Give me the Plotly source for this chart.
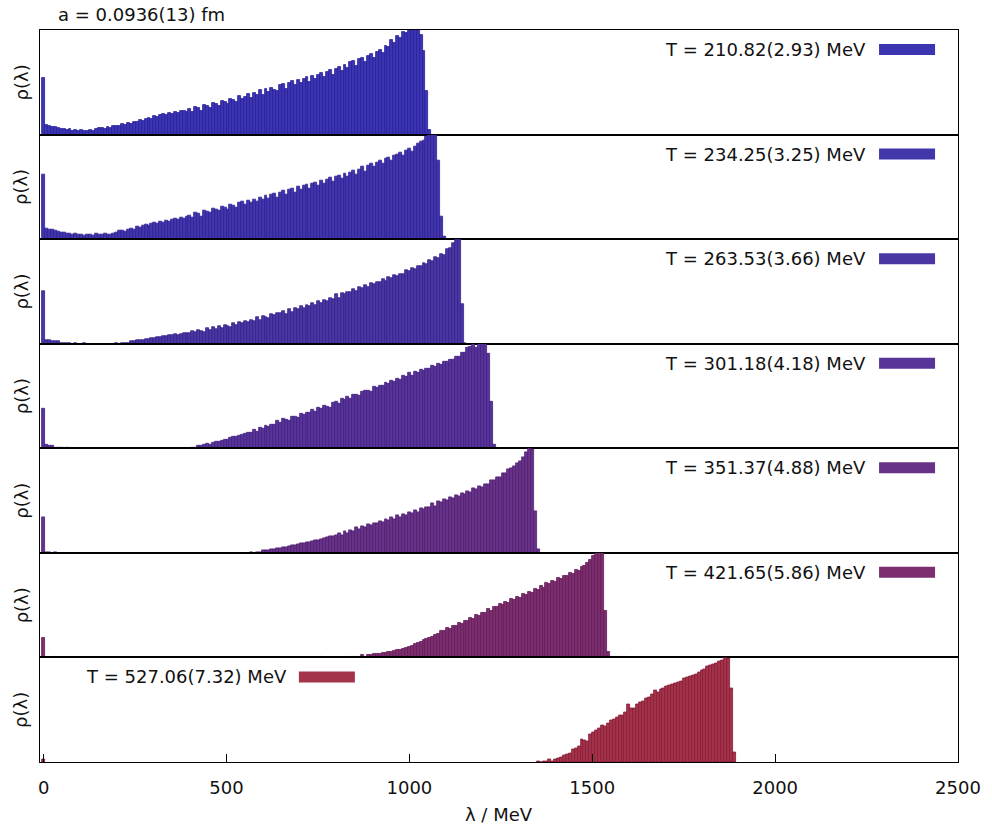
import plotly.graph_objects as go
from plotly.subplots import make_subplots

# Eigenvalue densities rho(lambda), one panel per temperature.
# Heights are in arbitrary units (panel full scale = 100).
BIN = 8.0  # histogram bin width, MeV

temp_labels = [
    "T = 210.82(2.93) MeV",
    "T = 234.25(3.25) MeV",
    "T = 263.53(3.66) MeV",
    "T = 301.18(4.18) MeV",
    "T = 351.37(4.88) MeV",
    "T = 421.65(5.86) MeV",
    "T = 527.06(7.32) MeV",
]

fill_colors = ["#3b35b2", "#4236ab", "#4b36a2", "#573497", "#673388", "#7c2e6e", "#a3334b"]
edge_colors = ["#2a1f9c", "#2f2096", "#37218d", "#421f82", "#511e73", "#641a58", "#881a36"]

# centre of the first bin of each bulk list (MeV)
bulk_start = [0, 0, 0, 400, 560, 760, 1352]

# bins next to lambda = 0 (centres 0, 8, 16, ...) for the hotter ensembles
near0_4 = [38, 3, 2, 2, 1, 1, 1, 0, 1]
near0_5 = [34, 1, 1, 0, 1]
near0_6 = [19, 0, 0, 0, 1]
near0_7 = [2]

rho_1 = [
    54, 9, 8, 7, 7, 6, 5, 5, 4, 5,
    3, 4, 3, 4, 3, 3, 4, 3, 5, 6,
    6, 5, 7, 6, 8, 8, 8, 10, 9, 11,
    10, 12, 12, 14, 13, 15, 16, 15, 18, 17,
    19, 20, 19, 21, 20, 22, 21, 23, 23, 22,
    24, 22, 26, 25, 23, 28, 27, 25, 30, 29,
    27, 32, 31, 29, 34, 33, 31, 37, 34, 36,
    39, 35, 40, 38, 43, 38, 44, 41, 45, 43,
    42, 47, 48, 44, 49, 51, 47, 52, 49, 53,
    55, 50, 56, 53, 57, 59, 55, 60, 62, 57,
    63, 65, 61, 67, 64, 69, 70, 66, 72, 73,
    69, 75, 77, 73, 79, 81, 78, 85, 84, 90,
    88, 94, 92, 98, 97, 103, 101, 105, 102, 95,
    80, 42, 4,
]

rho_2 = [
    62, 10, 9, 9, 8, 7, 6, 6, 5, 5,
    4, 5, 4, 4, 3, 4, 4, 3, 5, 4,
    4, 5, 4, 4, 5, 6, 8, 8, 7, 9,
    10, 9, 12, 11, 13, 14, 13, 15, 16, 15,
    17, 16, 18, 17, 19, 20, 19, 21, 20, 22,
    23, 21, 25, 24, 22, 27, 26, 25, 29, 28,
    27, 31, 30, 28, 33, 32, 30, 35, 36, 33,
    37, 35, 38, 36, 40, 38, 42, 39, 43, 44,
    40, 45, 46, 43, 47, 48, 45, 50, 47, 51,
    52, 48, 53, 54, 51, 56, 53, 57, 59, 55,
    60, 61, 58, 63, 60, 64, 66, 62, 67, 69,
    65, 70, 72, 69, 73, 75, 72, 77, 78, 75,
    80, 81, 83, 80, 85, 87, 84, 89, 91, 93,
    94, 98, 101, 103, 104, 75, 22, 2,
]

rho_3 = [
    50, 3, 3, 2, 2, 2, 1, 1, 1, 1,
    0, 1, 0, 0, 1, 0, 0, 0, 0, 0,
    0, 0, 0, 0, 0, 1, 0, 1, 1, 1,
    2, 2, 3, 3, 3, 4, 4, 5, 5, 6,
    6, 7, 7, 8, 8, 9, 8, 9, 10, 10,
    10, 12, 11, 13, 12, 11, 15, 13, 16, 14,
    17, 15, 18, 17, 16, 20, 18, 21, 20, 22,
    21, 23, 22, 25, 23, 26, 25, 24, 28, 27,
    29, 29, 31, 28, 33, 30, 34, 33, 36, 34,
    37, 36, 39, 37, 41, 39, 42, 41, 44, 43,
    47, 44, 48, 47, 49, 49, 52, 50, 54, 53,
    56, 54, 58, 57, 59, 59, 62, 60, 64, 63,
    66, 65, 67, 67, 70, 69, 72, 71, 74, 74,
    77, 76, 80, 79, 83, 82, 86, 85, 90, 91,
    96, 101, 104, 38, 1,
]

rho_4 = [
    0, 1, 1, 2, 2, 3, 4, 3, 5, 6,
    6, 7, 8, 8, 10, 11, 11, 12, 13, 14,
    15, 15, 18, 16, 20, 19, 22, 21, 23, 23,
    26, 24, 28, 27, 26, 30, 30, 29, 33, 32,
    34, 34, 37, 35, 39, 38, 41, 40, 39, 44,
    45, 43, 47, 46, 49, 47, 51, 51, 50, 54,
    55, 55, 54, 59, 58, 60, 60, 63, 62, 65,
    64, 67, 66, 69, 68, 72, 69, 73, 72, 75,
    74, 76, 76, 79, 78, 81, 80, 83, 83, 85,
    85, 88, 88, 91, 91, 96, 97, 100, 96, 101,
    102, 104, 90, 45, 3,
]

rho_5 = [
    0, 1, 0, 1, 1, 2, 2, 2, 3, 3,
    4, 4, 5, 5, 6, 7, 7, 8, 9, 9,
    10, 10, 11, 12, 12, 13, 14, 15, 16, 16,
    17, 19, 17, 21, 19, 22, 21, 24, 23, 25,
    24, 27, 26, 28, 28, 30, 29, 32, 31, 34,
    32, 36, 34, 37, 36, 39, 38, 41, 39, 43,
    42, 44, 44, 47, 45, 49, 48, 51, 50, 53,
    52, 55, 54, 57, 56, 59, 58, 62, 61, 64,
    63, 66, 66, 69, 69, 72, 72, 76, 76, 80,
    81, 83, 86, 88, 91, 96, 101, 99, 40, 3,
]

rho_6 = [
    1, 0, 0, 0, 0, 0, 0, 0, 0, 1,
    0, 1, 1, 1, 2, 1, 2, 2, 3, 3,
    3, 4, 4, 5, 5, 6, 7, 7, 8, 9,
    10, 11, 13, 14, 15, 17, 18, 19, 20, 22,
    23, 25, 25, 28, 27, 30, 30, 33, 32, 35,
    35, 38, 37, 41, 40, 43, 43, 46, 45, 48,
    48, 51, 50, 53, 52, 56, 55, 58, 57, 61,
    60, 63, 62, 66, 65, 68, 67, 71, 70, 73,
    72, 76, 75, 78, 78, 81, 80, 84, 83, 87,
    88, 90, 93, 97, 100, 103, 104, 45, 5, 1,
    1, 0, 1, 1, 1,
]

rho_7 = [
    1, 0, 1, 1, 2, 1, 2, 3, 4, 6,
    7, 8, 12, 13, 15, 22, 21, 20, 26, 28,
    30, 32, 35, 34, 37, 40, 41, 43, 45, 45,
    47, 55, 51, 51, 55, 57, 58, 61, 62, 65,
    68, 67, 69, 70, 72, 73, 74, 75, 76, 77,
    80, 81, 82, 83, 84, 86, 88, 89, 91, 92,
    93, 94, 96, 97, 100, 99, 70, 9,
]

near0 = [[], [], [], near0_4, near0_5, near0_6, near0_7]
bulk = [rho_1, rho_2, rho_3, rho_4, rho_5, rho_6, rho_7]

N = len(bulk)
FONT = "DejaVu Sans"

fig = make_subplots(rows=N, cols=1, shared_xaxes=True, vertical_spacing=0)

for k in range(N):
    lam = [BIN * i for i in range(len(near0[k]))]
    lam += [bulk_start[k] + BIN * i for i in range(len(bulk[k]))]
    rho = list(near0[k]) + list(bulk[k])
    fig.add_trace(
        go.Bar(
            x=lam,
            y=rho,
            width=BIN,
            marker=dict(color=fill_colors[k], line=dict(color=edge_colors[k], width=0.8)),
            showlegend=False,
            hoverinfo="skip",
        ),
        row=k + 1,
        col=1,
    )

# per-panel key: label text and a colour swatch
for k in range(N):
    sfx = "" if k == 0 else str(k + 1)
    xr = f"x{sfx} domain"
    yr = f"y{sfx} domain"
    if k < N - 1:
        tx, sx0, sx1 = 0.9020, 0.914, 0.975
    else:
        tx, sx0, sx1 = 0.2712, 0.282, 0.343
    fig.add_annotation(
        text=temp_labels[k], xref=xr, yref=yr, x=tx, y=0.814,
        xanchor="right", yanchor="middle", showarrow=False,
        font=dict(family=FONT, size=18, color="#111111"),
    )
    fig.add_shape(
        type="rect", xref=xr, yref=yr, x0=sx0, x1=sx1, y0=0.761, y1=0.866,
        fillcolor=fill_colors[k], line=dict(width=0),
    )
    fig.add_annotation(
        text="ρ(λ)", xref="paper", yref=yr, x=-0.0205, y=0.5,
        xanchor="center", yanchor="middle", textangle=-90, showarrow=False,
        font=dict(family=FONT, size=18, color="#111111"),
    )

fig.add_annotation(
    text="a = 0.0936(13) fm", xref="paper", yref="paper", x=0.0174, y=1.0205,
    xanchor="left", yanchor="middle", showarrow=False,
    font=dict(family=FONT, size=18, color="#111111"),
)
fig.add_annotation(
    text="λ / MeV", xref="paper", yref="paper", x=0.5, y=-0.0724,
    xanchor="center", yanchor="middle", showarrow=False,
    font=dict(family=FONT, size=18, color="#111111"),
)

for k in range(N):
    last = k == N - 1
    fig.update_xaxes(
        range=[-10, 2500],
        showline=True, linecolor="black", linewidth=1.3, mirror=True,
        showgrid=False, zeroline=False,
        ticks="inside" if last else "",
        ticklen=8, tickwidth=1, tickcolor="black",
        tickvals=[0, 500, 1000, 1500, 2000, 2500],
        showticklabels=last,
        ticklabelstandoff=9,
        tickfont=dict(family=FONT, size=18, color="#111111"),
        row=k + 1, col=1,
    )
    fig.update_yaxes(
        range=[0, 100],
        showline=True, linecolor="black", linewidth=1.3, mirror=True,
        showgrid=False, zeroline=False, ticks="", showticklabels=False,
        row=k + 1, col=1,
    )

fig.update_layout(
    width=992,
    height=828,
    margin=dict(l=40, r=34, t=30, b=66),
    paper_bgcolor="white",
    plot_bgcolor="white",
    bargap=0,
    font=dict(family=FONT, size=18, color="#111111"),
)

fig.write_html("out.html")
